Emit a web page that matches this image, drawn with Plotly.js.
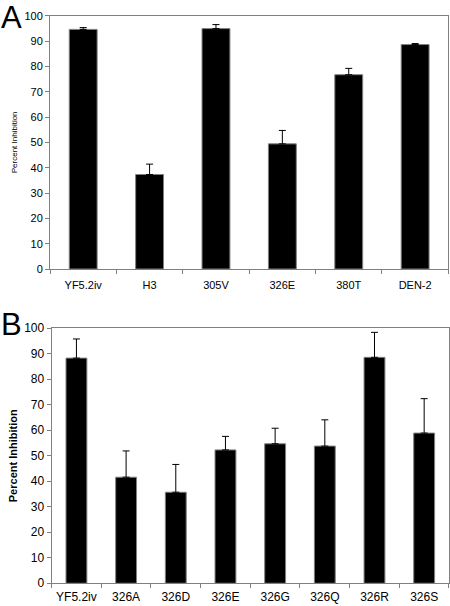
<!DOCTYPE html>
<html>
<head>
<meta charset="utf-8">
<script src="https://cdn.plot.ly/plotly-3.0.1.min.js"></script>
<style>html,body{margin:0;padding:0;background:#fff;}#chart{width:450px;height:606px;}</style>
</head>
<body>
<div id="chart"></div>
<script>
const catsA = ['YF5.2iv', 'H3', '305V', '326E', '380T', 'DEN-2'];
const valsA = [94.6, 37.3, 94.9, 49.4, 76.7, 88.6];
const errA = [0.7, 4.1, 1.6, 5.3, 2.5, 0.4];

const catsB = ['YF5.2iv', '326A', '326D', '326E', '326G', '326Q', '326R', '326S'];
const valsB = [88.3, 41.6, 35.7, 52.3, 54.7, 53.8, 88.6, 58.9];
const errB = [7.5, 10.3, 10.9, 5.3, 6.1, 10.3, 9.8, 13.5];

const yTicks = [0, 10, 20, 30, 40, 50, 60, 70, 80, 90, 100];
const yTitle = 'Percent Inhibition';
const panelLabels = ['A', 'B'];

const FONT = 'Liberation Sans, Arial, sans-serif';
const barStyle = {color: '#000', line: {color: '#808080', width: 1}};
const errStyle = {type: 'data', symmetric: false, color: '#000', thickness: 1, width: 3.5};

const traces = [
  {type: 'bar', x: catsA, y: valsA, xaxis: 'x', yaxis: 'y', marker: barStyle,
   error_y: Object.assign({}, errStyle, {array: errA, arrayminus: catsA.map(() => 0)}), hoverinfo: 'x+y'},
  {type: 'bar', x: catsB, y: valsB, xaxis: 'x2', yaxis: 'y2', marker: barStyle,
   error_y: Object.assign({}, errStyle, {array: errB, arrayminus: catsB.map(() => 0)}), hoverinfo: 'x+y'}
];

function xax(domain, anchor, n, size, standoff) {
  return {domain: domain, anchor: anchor, type: 'category', range: [-0.5, n - 0.5],
    showline: true, linecolor: '#808080', linewidth: 1, mirror: true,
    ticks: 'outside', tickson: 'boundaries', ticklen: 4, tickcolor: '#808080', tickangle: 0,
    ticklabelstandoff: standoff,
    tickfont: {family: FONT, size: size, color: '#000'}, showgrid: false, zeroline: false, fixedrange: true};
}
function yax(domain, anchor, size, titleSize, bold, standoff) {
  return {domain: domain, anchor: anchor, range: [0, 100], tickvals: yTicks, ticktext: yTicks.map(String),
    showline: true, linecolor: '#808080', linewidth: 1, mirror: true,
    ticks: 'outside', ticklen: 4, tickcolor: '#808080', showgrid: false, zeroline: false,
    tickfont: {family: FONT, size: size, color: '#000'},
    title: {text: bold ? '<b>' + yTitle + '</b>' : yTitle, font: {family: FONT, size: titleSize, color: '#000'}, standoff: standoff},
    fixedrange: true};
}

const layout = {
  width: 450, height: 606,
  margin: {l: 50, r: 1, t: 0, b: 0},
  paper_bgcolor: '#fff', plot_bgcolor: '#fff',
  showlegend: false, bargap: 0.58,
  font: {family: FONT, color: '#000'},
  xaxis: xax([0, 0.9983], 'y', catsA.length, 11, 6),
  yaxis: yax([0.5561, 0.9741], 'x', 11, 8, false, 5),
  xaxis2: xax([0.004, 1], 'y2', catsB.length, 12, 2),
  yaxis2: yax([0.0375, 0.4583], 'x2', 12, 11, true, 4),
  annotations: [
    {text: panelLabels[0], xref: 'paper', yref: 'paper', x: -0.128, y: 1.003, xanchor: 'left', yanchor: 'top', showarrow: false,
     font: {family: FONT, size: 31, color: '#000'}},
    {text: panelLabels[1], xref: 'paper', yref: 'paper', x: -0.128, y: 0.497, xanchor: 'left', yanchor: 'top', showarrow: false,
     font: {family: FONT, size: 31, color: '#000'}}
  ]
};

Plotly.newPlot('chart', traces, layout, {displayModeBar: false, staticPlot: true});
</script>
</body>
</html>
